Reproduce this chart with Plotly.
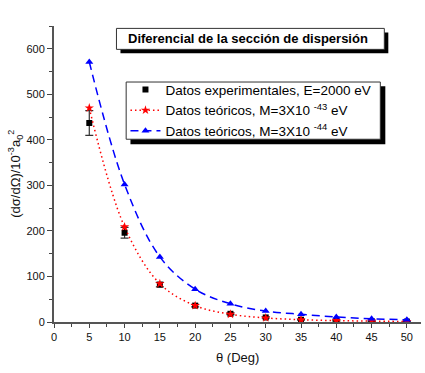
import plotly.graph_objects as go

theta = [5, 10, 15, 20, 25, 30, 35, 40, 45, 50]
exp_vals = [437, 196, 82, 36, 18, 10, 5, 3, 2, 1]
exp_err = [27, 12, 5, 3, 2, 1.5, 1, 1, 0.5, 0.5]
teo43 = [470, 209, 84, 36, 17, 9, 5, 3, 2, 1]
teo44 = [571, 302, 143, 72, 40, 24, 17, 11, 7, 5]

x_ticks = [0, 5, 10, 15, 20, 25, 30, 35, 40, 45, 50]
y_ticks = [0, 100, 200, 300, 400, 500, 600]

title_text = "<b>Diferencial de la sección de dispersión</b>"
x_title = "θ (Deg)"
y_title = "(dσ/dΩ)/10<sup>-3</sup>a<sub>0</sub><sup>2</sup>"
leg_names = [
    "Datos experimentales, E=2000 eV",
    "Datos teóricos, M=3X10 <sup>-43</sup> eV",
    "Datos teóricos, M=3X10 <sup>-44</sup> eV",
]

fig = go.Figure()
fig.add_trace(go.Scatter(
    x=theta, y=exp_vals, mode="markers", name=leg_names[0],
    marker=dict(symbol="square", size=6, color="black"),
    error_y=dict(type="data", array=exp_err, color="#333", thickness=1.2, width=4),
))
fig.add_trace(go.Scatter(
    x=theta, y=teo43, mode="lines+markers", name=leg_names[1],
    line=dict(color="red", dash="1.5px,3px", width=1.5, shape="spline"),
    marker=dict(symbol="star", size=7, color="red"),
))
fig.add_trace(go.Scatter(
    x=theta, y=teo44, mode="lines+markers", name=leg_names[2],
    line=dict(color="blue", dash="8px,5px", width=1.5, shape="spline"),
    marker=dict(symbol="triangle-up", size=7, color="blue"),
))

L, R, T, B = 53.5, 420.7, 25.6, 322.0
W, H = R - L, B - T


def px(xp):
    return (xp - L) / W


def py(yp):
    return (B - yp) / H


shapes = [
    dict(type="rect", xref="paper", yref="paper", x0=px(120), x1=px(388), y0=py(53), y1=py(32),
         fillcolor="black", line=dict(width=0), layer="above"),
    dict(type="rect", xref="paper", yref="paper", x0=px(116), x1=px(384), y0=py(49), y1=py(28),
         fillcolor="white", line=dict(color="#333", width=1), layer="above"),
    dict(type="rect", xref="paper", yref="paper", x0=px(130), x1=px(385), y0=py(144), y1=py(86),
         fillcolor="black", line=dict(width=0), layer="above"),
    dict(type="rect", xref="paper", yref="paper", x0=px(125.7), x1=px(380), y0=py(139), y1=py(81.7),
         fillcolor="white", line=dict(color="#333", width=1), layer="above"),
]

fig.update_layout(
    width=425, height=373,
    margin=dict(l=L, r=425 - R, t=T, b=373 - B, autoexpand=False),
    paper_bgcolor="white", plot_bgcolor="white",
    font=dict(family="Arial, Liberation Sans, sans-serif", color="#111"),
    showlegend=True,
    legend=dict(x=px(125), y=py(74), xanchor="left", yanchor="top",
                bgcolor="rgba(0,0,0,0)", borderwidth=0,
                font=dict(size=13.5, color="black"), tracegroupgap=0,
                itemwidth=30),
    shapes=shapes,
    annotations=[
        dict(text=title_text, xref="paper", yref="paper",
             x=px(248), y=py(38.5), xanchor="center", yanchor="middle", showarrow=False,
             font=dict(size=13, color="black")),
        dict(text=x_title, xref="paper", yref="paper",
             x=px(237), y=py(358), xanchor="center", yanchor="middle", showarrow=False,
             font=dict(size=13, color="#111")),
        dict(text=y_title, xref="paper", yref="paper", textangle=-90,
             x=px(15), y=py(174), xanchor="center", yanchor="middle", showarrow=False,
             font=dict(size=13, color="#111")),
    ],
    xaxis=dict(range=[0, 52], tickvals=x_ticks, ticks="outside", ticklen=4,
               tickcolor="#444", tickwidth=1.2, automargin=False,
               showline=True, linecolor="#555", linewidth=1.5, showgrid=False, zeroline=False,
               tickfont=dict(size=11, color="#111"),
               minor=dict(dtick=2.5, tick0=0, ticks="outside", ticklen=3, tickcolor="#444", showgrid=False)),
    yaxis=dict(range=[0, 650], tickvals=y_ticks, ticks="outside", ticklen=5,
               tickcolor="#444", tickwidth=1.2, automargin=False,
               showline=True, linecolor="#555", linewidth=2, showgrid=False, zeroline=False,
               tickfont=dict(size=11, color="#111"),
               minor=dict(dtick=50, tick0=0, ticks="outside", ticklen=3, tickcolor="#444", showgrid=False)),
)

fig.write_html("out.html", config={"displayModeBar": False},
               post_script="document.body.style.margin='0';document.body.style.overflow='hidden';")
